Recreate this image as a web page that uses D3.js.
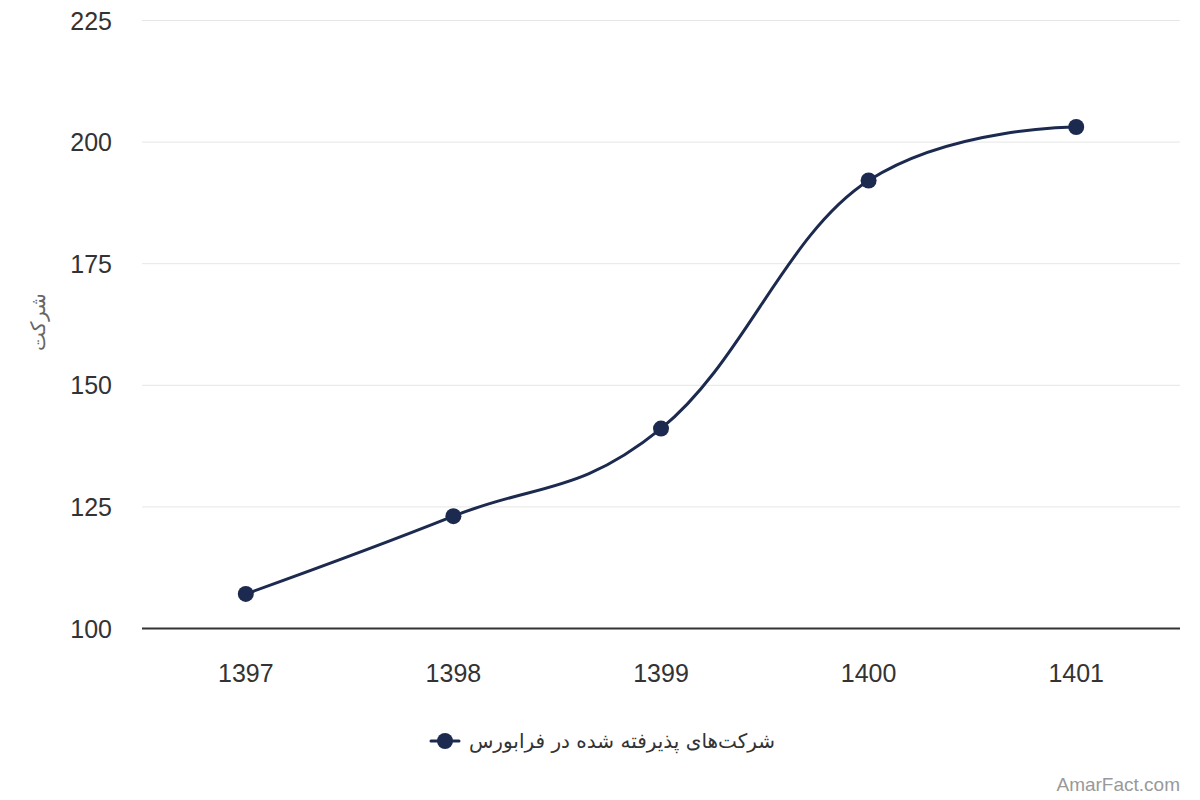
<!DOCTYPE html>
<html><head><meta charset="utf-8">
<script src="https://cdn.jsdelivr.net/npm/d3@7"></script>
<style>body{margin:0;background:#fff}svg{display:block}text{font-family:"Liberation Sans",Arial,Helvetica,sans-serif}</style>
</head><body>
<svg id="c" width="1200" height="800"></svg>
<script>
const categories = ["1397","1398","1399","1400","1401"];
const values = [107,123,141,192,203];
const yTicks = [100,125,150,175,200,225];
const seriesName = "شرکت‌های پذیرفته شده در فرابورس";
const yTitle = "شرکت";
const credit = "AmarFact.com";

const W=1200,H=800, L=142, R=1180, T=20, B=628;
const color="#1b2a4e";
const svg=d3.select("#c");
const x=d3.scaleBand().domain(categories).range([L,R]);
const y=d3.scaleLinear().domain([100,225]).range([B,T]);
const cx=c=>x(c)+x.bandwidth()/2;

// grid
svg.append("g").selectAll("line").data(yTicks.slice(1)).join("line")
  .attr("x1",L).attr("x2",R).attr("y1",d=>y(d)+0.5).attr("y2",d=>y(d)+0.5)
  .attr("stroke","#e6e6e6").attr("stroke-width",1);
// y labels
svg.append("g").selectAll("text").data(yTicks).join("text")
  .attr("x",112).attr("y",d=>y(d)+9.5).attr("text-anchor","end")
  .attr("font-size",25).attr("fill","#333").text(d=>d);
// x axis line
svg.append("line").attr("x1",L).attr("x2",R).attr("y1",B+0.5).attr("y2",B+0.5)
  .attr("stroke","#333").attr("stroke-width",2);
// x labels
svg.append("g").selectAll("text").data(categories).join("text")
  .attr("x",d=>cx(d)).attr("y",682).attr("text-anchor","middle")
  .attr("font-size",25).attr("fill","#333").text(d=>d);
// y title
svg.append("text").attr("transform","translate(45,322) rotate(-90)")
  .attr("text-anchor","middle").attr("font-size",20).attr("fill","#666").text(yTitle);

// Highcharts-like spline
const pts=categories.map((c,i)=>({x:cx(c),y:y(values[i])}));
const sm=1.5, den=2.5;
pts.forEach((p,i)=>{
  if(i>0 && i<pts.length-1){
    const a=pts[i-1], n=pts[i+1];
    let lx=(sm*p.x+a.x)/den, ly=(sm*p.y+a.y)/den, rx=(sm*p.x+n.x)/den, ry=(sm*p.y+n.y)/den;
    if(rx!==lx){const corr=((ry-ly)*(rx-p.x))/(rx-lx)+p.y-ry; ly+=corr; ry+=corr;}
    if(ly>a.y&&ly>p.y){ly=Math.max(a.y,p.y);ry=2*p.y-ly;}else if(ly<a.y&&ly<p.y){ly=Math.min(a.y,p.y);ry=2*p.y-ly;}
    if(ry>n.y&&ry>p.y){ry=Math.max(n.y,p.y);ly=2*p.y-ry;}else if(ry<n.y&&ry<p.y){ry=Math.min(n.y,p.y);ly=2*p.y-ry;}
    p.lx=lx;p.ly=ly;p.rx=rx;p.ry=ry;
  }
});
const path=d3.path();
pts.forEach((p,i)=>{
  if(i===0){path.moveTo(p.x,p.y);return;}
  const a=pts[i-1];
  path.bezierCurveTo(a.rx??a.x,a.ry??a.y,p.lx??p.x,p.ly??p.y,p.x,p.y);
});
svg.append("path").attr("d",path.toString()).attr("fill","none")
  .attr("stroke",color).attr("stroke-width",3).attr("stroke-linejoin","round").attr("stroke-linecap","round");
svg.append("g").selectAll("circle").data(pts).join("circle")
  .attr("cx",d=>d.x).attr("cy",d=>d.y).attr("r",8).attr("fill",color);

// legend
svg.append("line").attr("x1",431).attr("x2",459).attr("y1",741).attr("y2",741)
  .attr("stroke",color).attr("stroke-width",3).attr("stroke-linecap","round");
svg.append("circle").attr("cx",445).attr("cy",741).attr("r",8).attr("fill",color);
svg.append("text").attr("x",622).attr("y",748).attr("text-anchor","middle")
  .attr("font-size",20).attr("fill","#333").style("font-family","'DejaVu Sans','Liberation Sans',sans-serif").text(seriesName);
// credit
svg.append("text").attr("x",1180).attr("y",791).attr("text-anchor","end")
  .attr("font-size",19).attr("fill","#999").text(credit);
</script>
</body></html>
